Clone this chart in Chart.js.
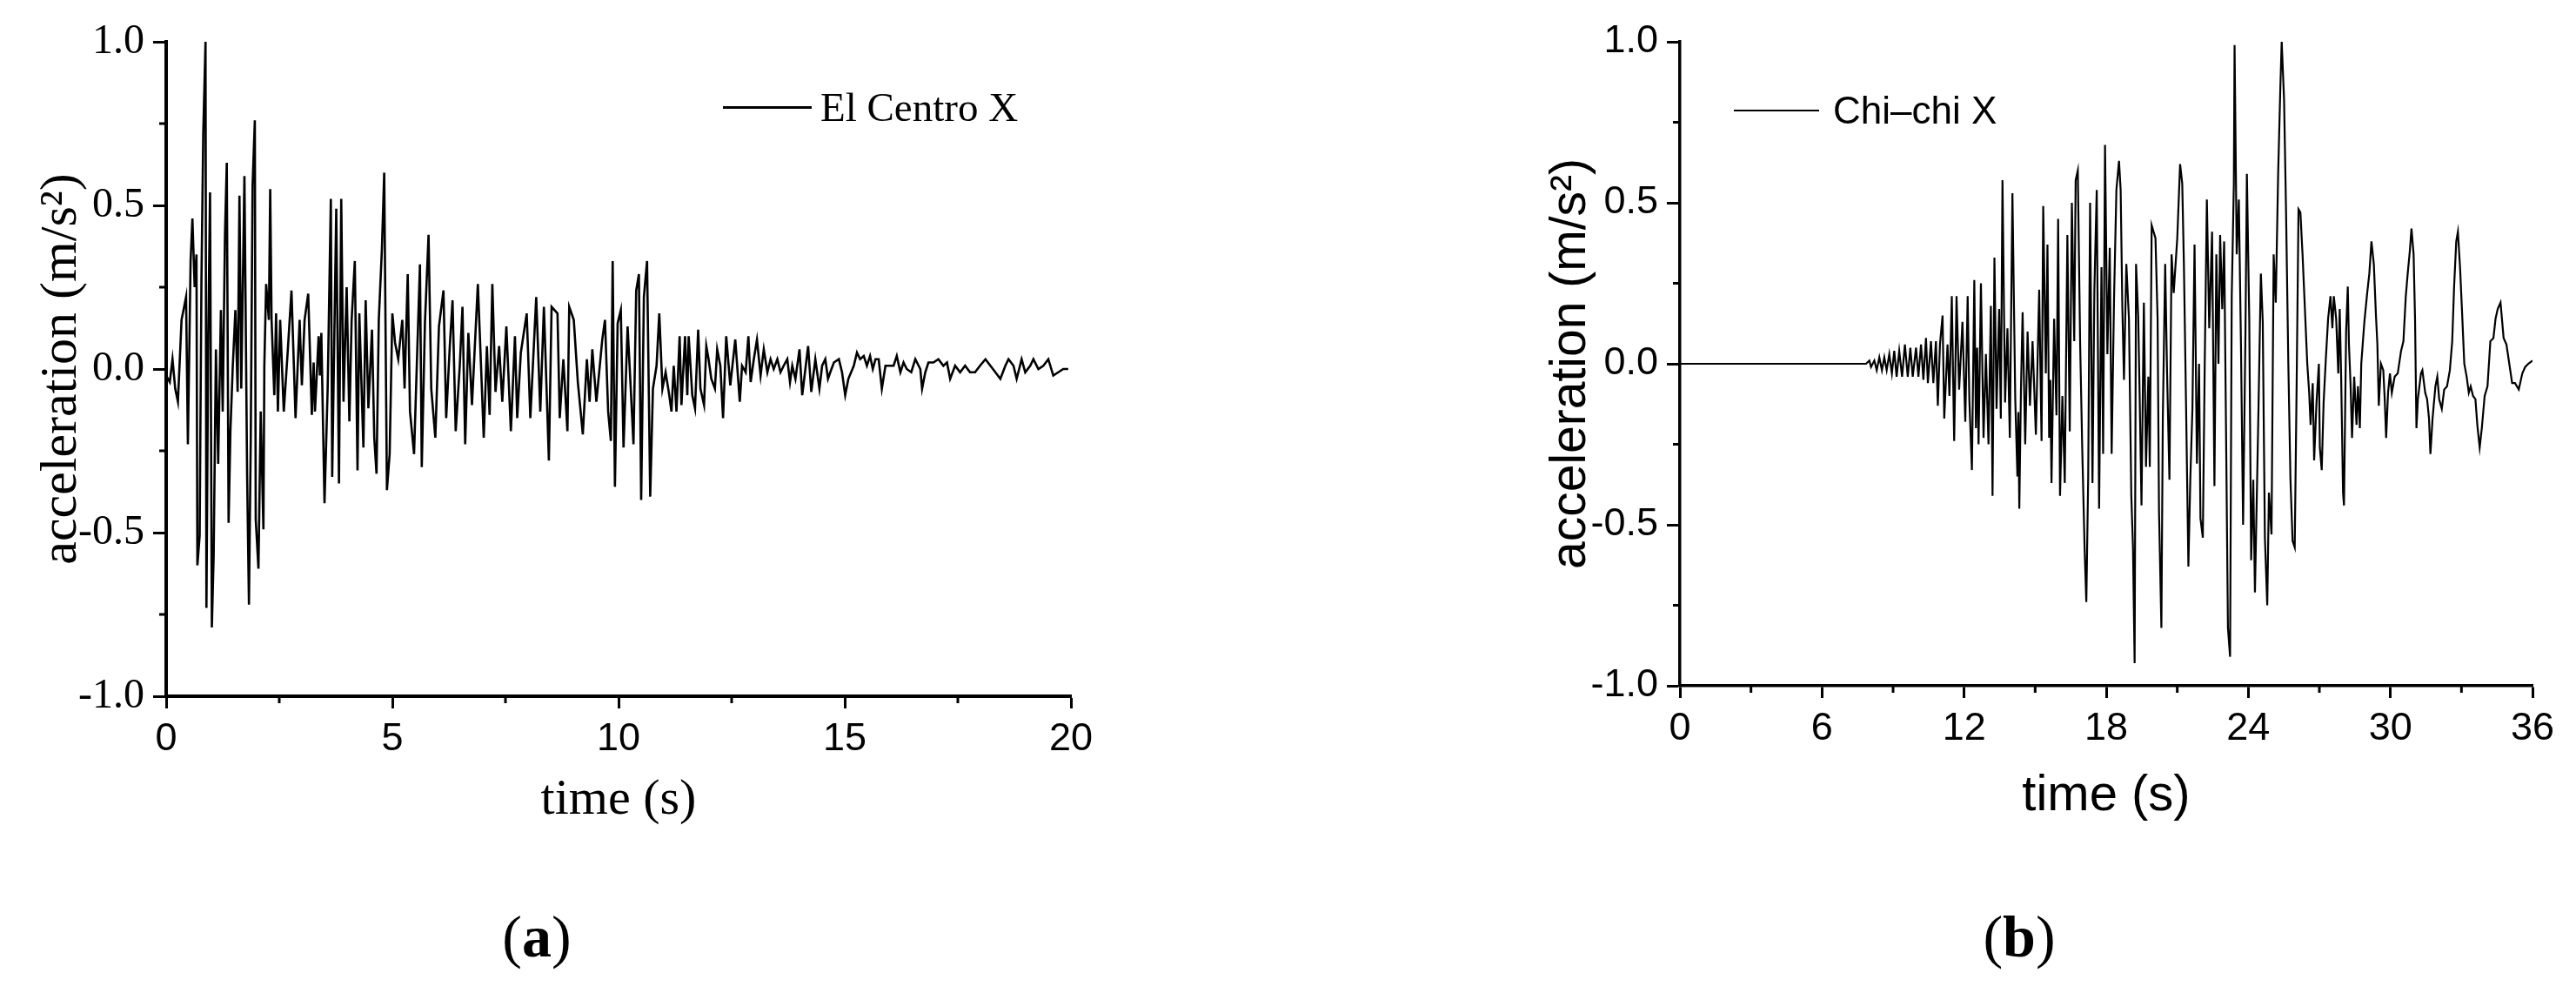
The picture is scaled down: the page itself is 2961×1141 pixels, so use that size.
<!DOCTYPE html>
<html><head><meta charset="utf-8">
<script src="https://cdn.jsdelivr.net/npm/chart.js@4/dist/chart.umd.min.js"></script>
<style>
body{margin:0;background:#fff;width:2961px;height:1141px;overflow:hidden;position:relative;}
canvas{position:absolute;top:0}
.lg{position:absolute;display:flex;align-items:center;transform:translateY(-50%);white-space:nowrap;color:#000}
.lg i{display:inline-block;height:3px;background:#000}
.cap{position:absolute;transform:translate(-50%,-50%);font-family:'Liberation Serif';font-size:68px;color:#000;white-space:nowrap}
</style></head><body>
<canvas id="c1" width="1300" height="1000" style="left:0"></canvas>
<canvas id="c2" width="1261" height="1000" style="left:1700px"></canvas>
<div class="lg" style="left:831px;top:123px;font-family:'Liberation Serif';font-size:47px"><i style="width:102px;margin-right:10px"></i><span>El Centro X</span></div>
<div class="lg" style="left:1993px;top:127px;font-family:'Liberation Sans';font-size:44px"><i style="width:98px;margin-right:16px;height:2px"></i><span>Chi–chi X</span></div>
<div class="cap" style="left:617px;top:1076px">(<b>a</b>)</div>
<div class="cap" style="left:2321px;top:1076px">(<b>b</b>)</div>
<script>
// ---- El Centro X ----
const elTime = [0.00,0.08,0.14,0.20,0.26,0.34,0.44,0.48,0.54,0.58,0.63,0.67,0.69,0.74,0.78,0.82,0.87,0.89,0.93,0.97,1.01,1.05,1.10,1.15,1.21,1.25,1.30,1.34,1.38,1.42,1.47,1.53,1.58,1.62,1.66,1.73,1.79,1.83,1.87,1.91,1.96,1.98,2.04,2.09,2.15,2.17,2.21,2.27,2.30,2.33,2.39,2.43,2.47,2.52,2.60,2.69,2.77,2.86,2.95,3.00,3.06,3.14,3.22,3.26,3.29,3.37,3.40,3.43,3.50,3.57,3.64,3.67,3.76,3.82,3.87,3.92,3.99,4.05,4.10,4.17,4.23,4.27,4.36,4.41,4.47,4.55,4.60,4.65,4.70,4.77,4.82,4.88,4.94,5.00,5.06,5.13,5.22,5.27,5.34,5.39,5.48,5.54,5.61,5.65,5.72,5.80,5.86,5.95,6.03,6.13,6.19,6.27,6.33,6.40,6.49,6.55,6.61,6.68,6.76,6.89,6.96,7.02,7.09,7.15,7.21,7.28,7.36,7.43,7.52,7.62,7.71,7.76,7.84,7.97,8.05,8.18,8.27,8.35,8.46,8.52,8.65,8.70,8.78,8.87,8.91,9.01,9.10,9.21,9.30,9.36,9.42,9.51,9.64,9.70,9.77,9.83,9.87,9.92,9.98,10.05,10.11,10.20,10.27,10.33,10.39,10.45,10.50,10.56,10.63,10.70,10.76,10.84,10.90,10.97,11.04,11.11,11.17,11.22,11.28,11.35,11.39,11.47,11.52,11.55,11.63,11.69,11.76,11.81,11.89,11.94,11.99,12.05,12.13,12.18,12.25,12.31,12.38,12.47,12.58,12.68,12.73,12.81,12.87,12.92,12.99,13.06,13.14,13.21,13.29,13.36,13.43,13.51,13.58,13.65,13.73,13.79,13.84,13.91,14.00,14.06,14.13,14.19,14.26,14.35,14.44,14.50,14.57,14.63,14.68,14.76,14.87,14.94,15.01,15.08,15.20,15.27,15.34,15.42,15.49,15.56,15.62,15.68,15.75,15.82,15.90,16.01,16.08,16.15,16.23,16.30,16.37,16.47,16.56,16.67,16.71,16.78,16.85,16.96,17.07,17.18,17.26,17.33,17.44,17.55,17.66,17.77,17.88,17.99,18.11,18.22,18.33,18.44,18.55,18.62,18.73,18.80,18.91,18.99,19.10,19.17,19.28,19.39,19.50,19.61,19.72,19.83,19.94];
const elAcc = [-0.02,-0.04,0.03,-0.06,-0.10,0.15,0.22,-0.23,0.33,0.46,0.25,0.35,-0.60,-0.51,0.27,0.72,1.00,-0.73,0.10,0.54,-0.79,-0.57,0.06,-0.29,0.18,-0.13,0.41,0.63,-0.47,-0.19,0.00,0.18,-0.07,0.53,-0.06,0.59,-0.33,-0.72,-0.21,0.56,0.76,-0.46,-0.61,-0.13,-0.49,0.01,0.26,0.15,0.55,0.15,-0.08,0.17,-0.13,0.15,-0.13,0.06,0.24,-0.15,0.15,-0.05,0.15,0.23,-0.14,0.02,-0.13,0.10,-0.02,0.11,-0.41,-0.06,0.52,-0.33,0.49,-0.35,0.52,-0.10,0.25,-0.16,0.15,0.33,-0.31,0.17,-0.24,0.21,-0.12,0.12,-0.21,-0.32,0.15,0.37,0.60,-0.37,-0.26,0.17,0.08,0.03,0.15,-0.06,0.29,-0.13,-0.26,0.01,0.32,-0.30,0.14,0.41,-0.06,-0.21,0.13,0.24,-0.15,0.07,0.21,-0.19,0.01,0.19,-0.23,0.11,-0.11,0.26,0.01,-0.21,0.07,-0.14,0.26,-0.07,0.07,-0.10,0.13,-0.19,0.10,-0.15,0.05,0.17,-0.15,0.22,-0.13,0.19,-0.28,0.19,0.17,-0.15,0.03,-0.19,0.19,0.15,-0.04,-0.20,0.03,-0.10,0.06,-0.10,0.09,0.15,-0.13,-0.22,0.33,-0.36,0.14,0.18,-0.24,0.13,-0.06,-0.23,0.24,0.29,-0.40,0.22,0.33,-0.39,-0.06,0.01,0.17,-0.06,-0.01,-0.07,-0.13,0.01,-0.13,0.10,-0.11,0.10,-0.08,0.10,-0.08,-0.12,0.12,-0.06,-0.11,0.07,0.03,-0.03,-0.06,0.06,0.01,-0.15,0.10,-0.05,0.09,-0.10,0.01,-0.01,0.10,-0.04,0.03,0.09,-0.02,0.06,-0.01,0.03,0.00,0.03,-0.01,0.01,0.03,-0.04,0.01,-0.03,0.06,-0.08,0.00,0.07,-0.07,0.03,-0.06,0.01,0.03,-0.03,-0.01,0.02,0.03,-0.01,-0.08,-0.03,0.01,0.05,0.03,0.04,0.01,0.04,0.00,0.03,0.03,-0.06,0.01,0.01,0.01,0.04,-0.01,0.02,0.00,-0.01,0.03,0.00,-0.06,-0.01,0.02,0.02,0.03,0.01,0.02,-0.03,0.01,-0.01,0.01,-0.01,-0.01,0.01,0.03,0.01,-0.01,-0.03,0.01,0.03,0.01,-0.03,0.03,-0.01,0.01,0.03,0.00,0.01,0.03,-0.02,-0.01,0.00,0.00];
const elXTicks = [0, 5, 10, 15, 20];
const elXMinor = [2.5, 7.5, 12.5, 17.5];

// ---- Chi-chi X ----
const chiTime = [0,7.86,8.00,8.07,8.21,8.31,8.42,8.53,8.63,8.73,8.84,8.95,9.05,9.15,9.26,9.38,9.50,9.62,9.73,9.83,9.97,10.07,10.18,10.28,10.39,10.47,10.60,10.70,10.81,10.89,10.98,11.09,11.16,11.30,11.38,11.48,11.58,11.68,11.79,11.93,12.05,12.15,12.22,12.33,12.43,12.50,12.55,12.61,12.71,12.82,12.92,13.03,13.13,13.20,13.28,13.37,13.48,13.55,13.62,13.73,13.83,13.93,14.04,14.16,14.25,14.29,14.33,14.40,14.47,14.58,14.68,14.78,14.89,15.03,15.17,15.27,15.34,15.45,15.52,15.59,15.64,15.69,15.80,15.90,15.97,16.05,16.15,16.25,16.36,16.46,16.55,16.65,16.71,16.80,16.90,16.99,17.09,17.16,17.24,17.32,17.42,17.50,17.60,17.70,17.80,17.87,17.95,18.05,18.15,18.23,18.33,18.43,18.54,18.61,18.68,18.75,18.85,18.96,19.06,19.13,19.20,19.26,19.35,19.41,19.49,19.59,19.68,19.78,19.84,19.92,20.08,20.17,20.23,20.33,20.39,20.49,20.57,20.67,20.76,20.85,21.00,21.12,21.21,21.28,21.37,21.47,21.55,21.64,21.73,21.83,21.92,21.98,22.08,22.16,22.25,22.35,22.47,22.57,22.65,22.74,22.81,22.90,22.98,23.06,23.14,23.23,23.30,23.39,23.42,23.51,23.60,23.69,23.78,23.88,23.94,24.04,24.12,24.21,24.28,24.37,24.43,24.53,24.61,24.70,24.80,24.87,24.98,25.07,25.16,25.26,25.35,25.41,25.51,25.59,25.69,25.78,25.87,25.96,26.04,26.12,26.20,26.29,26.39,26.49,26.57,26.63,26.72,26.78,26.88,26.98,27.02,27.10,27.18,27.27,27.37,27.47,27.55,27.61,27.71,27.80,27.86,27.92,28.00,28.04,28.13,28.20,28.25,28.32,28.38,28.47,28.57,28.63,28.71,28.77,28.90,29.02,29.11,29.20,29.30,29.39,29.45,29.51,29.60,29.70,29.76,29.82,29.90,29.98,30.06,30.18,30.31,30.45,30.55,30.65,30.73,30.82,30.89,30.98,31.04,31.10,31.16,31.29,31.35,31.47,31.55,31.63,31.69,31.78,31.90,31.98,32.06,32.17,32.27,32.39,32.51,32.61,32.69,32.78,32.85,32.94,33.02,33.12,33.22,33.31,33.39,33.49,33.59,33.67,33.77,33.86,33.98,34.10,34.22,34.35,34.44,34.53,34.65,34.78,34.90,35.02,35.14,35.26,35.42,35.57,35.69,35.82,36.00];
const chiAcc = [0,0,0.01,-0.01,0.01,-0.02,0.02,-0.02,0.02,-0.02,0.03,-0.03,0.04,-0.04,0.04,-0.04,0.06,-0.04,0.05,-0.04,0.05,-0.04,0.06,-0.05,0.08,-0.06,0.07,-0.06,0.07,-0.13,0.06,0.15,-0.17,0.06,-0.10,0.21,-0.24,0.21,-0.08,0.13,-0.18,0.21,-0.11,-0.33,0.26,-0.20,0.05,-0.25,0.25,-0.23,0.03,-0.25,0.18,-0.41,0.33,-0.14,0.17,-0.17,0.57,-0.12,0.11,-0.23,0.53,-0.11,-0.35,-0.15,-0.45,-0.08,0.16,-0.25,0.10,-0.13,0.07,-0.22,0.23,-0.24,0.49,-0.03,0.37,-0.23,-0.05,-0.37,0.14,-0.16,0.45,-0.41,-0.10,-0.37,0.40,-0.21,0.50,0.07,0.57,0.60,0.06,-0.27,-0.58,-0.74,-0.35,0.50,-0.37,0.23,0.54,-0.45,0.30,-0.28,0.68,0.03,0.36,-0.28,0.20,0.54,0.63,0.54,0.18,-0.05,0.31,0.14,-0.41,-0.57,-0.93,0.31,0.15,-0.09,-0.44,0.19,-0.32,-0.04,-0.32,0.43,0.39,0.14,-0.46,-0.82,-0.17,0.31,-0.03,-0.36,0.34,0.22,0.39,0.62,0.56,0.31,-0.12,-0.63,-0.36,-0.14,0.37,-0.31,0.00,-0.48,-0.54,0.00,0.51,0.11,0.41,-0.38,0.34,0.00,0.40,0.17,0.38,-0.21,-0.82,-0.91,0.21,0.56,0.99,0.34,0.51,0.06,-0.50,0.10,0.59,0.14,-0.61,-0.36,-0.71,-0.37,-0.14,0.28,0.13,-0.54,-0.75,-0.40,-0.53,0.34,0.19,0.59,0.85,1.00,0.82,0.49,0.00,-0.36,-0.55,-0.57,-0.07,0.48,0.47,0.34,0.17,0.00,-0.09,-0.19,-0.06,-0.30,-0.12,0.00,-0.26,-0.33,-0.12,0.01,0.14,0.21,0.11,0.21,0.14,-0.03,0.17,-0.04,-0.40,-0.44,0.10,0.24,0.06,-0.07,-0.23,-0.04,-0.19,-0.07,-0.20,0.00,0.13,0.22,0.28,0.38,0.31,0.15,0.06,-0.13,0.00,-0.02,-0.11,-0.23,-0.09,-0.03,-0.09,-0.04,-0.03,0.04,0.07,0.21,0.28,0.35,0.42,0.34,0.14,-0.20,-0.11,-0.03,-0.02,-0.09,-0.11,-0.17,-0.28,-0.17,-0.07,-0.04,-0.11,-0.14,-0.08,-0.07,-0.02,0.07,0.24,0.38,0.41,0.30,0.17,0.00,-0.04,-0.09,-0.07,-0.10,-0.11,-0.19,-0.26,-0.20,-0.10,-0.07,0.07,0.08,0.14,0.17,0.19,0.08,0.06,0.00,-0.06,-0.06,-0.08,-0.03,-0.01,0.00,0.01];
const chiXTicks = [0, 6, 12, 18, 24, 30, 36];
const chiXMinor = [3, 9, 15, 21, 27, 33];

const yTicks = [-1.0, -0.5, 0.0, 0.5, 1.0];
const yMinor = [-0.75, -0.25, 0.25, 0.75];

const minorTickPlugin = {
  id: 'minorTicks',
  afterDraw(chart, args, o) {
    const ctx = chart.ctx, xs = chart.scales.x, ys = chart.scales.y;
    ctx.save();
    ctx.strokeStyle = '#000';
    ctx.lineWidth = o.width;
    ctx.beginPath();
    o.x.forEach(v => { const p = xs.getPixelForValue(v); ctx.moveTo(p, xs.top); ctx.lineTo(p, xs.top + o.len); });
    o.y.forEach(v => { const p = ys.getPixelForValue(v); ctx.moveTo(ys.right, p); ctx.lineTo(ys.right - o.len, p); });
    ctx.stroke();
    ctx.restore();
  }
};

function makeChart(id, cfg) {
  const pts = cfg.t.map((t, i) => ({x: t, y: cfg.a[i]}));
  return new Chart(document.getElementById(id), {
    type: 'line',
    data: { datasets: [{ label: cfg.label, data: pts, borderColor: '#000', borderWidth: cfg.lw, pointRadius: 0, tension: 0, fill: false }] },
    options: {
      responsive: false, animation: false, devicePixelRatio: 1,
      layout: { padding: { top: 48, right: cfg.padRight, left: 0, bottom: 0 } },
      plugins: { legend: { display: false }, tooltip: { enabled: false },
        minorTicks: { x: cfg.minorX, y: yMinor, len: 8, width: 3 } },
      scales: {
        x: {
          type: 'linear', min: cfg.xTicks[0], max: cfg.xTicks[cfg.xTicks.length - 1],
          afterBuildTicks: s => { s.ticks = cfg.xTicks.map(v => ({value: v})); },
          afterFit: s => { s.height = cfg.xH; },
          border: { display: true, color: '#000', width: cfg.bw },
          grid: { drawOnChartArea: false, drawTicks: true, tickLength: 14, tickWidth: 3, tickColor: '#000' },
          ticks: { color: '#000', padding: 9, maxRotation: 0, font: { family: 'Liberation Sans', size: 45 }, callback: v => String(v) },
          title: { display: true, text: 'time (s)', color: '#000', padding: { top: 0, bottom: cfg.xTitlePad }, font: { family: cfg.titleFont, size: 58 } }
        },
        y: {
          type: 'linear', min: -1, max: 1,
          afterBuildTicks: s => { s.ticks = yTicks.map(v => ({value: v})); },
          afterFit: s => { s.width = cfg.yW; },
          border: { display: true, color: '#000', width: cfg.bw },
          grid: { drawOnChartArea: false, drawTicks: true, tickLength: 15, tickWidth: 3, tickColor: '#000' },
          ticks: { color: '#000', padding: 10, font: { family: cfg.yTickFont, size: cfg.yTickSize }, callback: v => v.toFixed(1) },
          title: { display: true, text: 'acceleration (m/s²)', color: '#000', padding: { top: cfg.yTitlePad, bottom: 0 }, font: { family: cfg.titleFont, size: cfg.yTitleSize } }
        }
      }
    },
    plugins: [minorTickPlugin]
  });
}

makeChart('c1', { t: elTime, a: elAcc, label: 'El Centro X', lw: 2.6, padRight: 69, xH: 200, yW: 191, bw: 4,
  xTicks: elXTicks, minorX: elXMinor, titleFont: 'Liberation Serif', yTickFont: 'Liberation Serif', yTickSize: 48,
  xTitlePad: 45, yTitlePad: 35, yTitleSize: 60 });
makeChart('c2', { t: chiTime, a: chiAcc, label: 'Chi–chi X', lw: 2.2, padRight: 50, xH: 212, yW: 231, bw: 3.5,
  xTicks: chiXTicks, minorX: chiXMinor, titleFont: 'Liberation Sans', yTickFont: 'Liberation Sans', yTickSize: 45,
  xTitlePad: 50, yTitlePad: 72, yTitleSize: 57 });
</script>
</body></html>
